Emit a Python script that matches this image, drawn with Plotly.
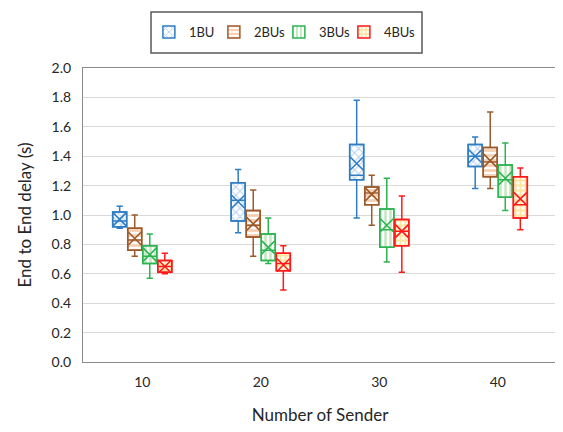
import plotly.graph_objects as go

categories = ["10", "20", "30", "40"]
series = ["1BU", "2BUs", "3BUs", "4BUs"]

lower = {
    "1BU": [0.91, 0.88, 0.98, 1.18],
    "2BUs": [0.72, 0.72, 0.93, 1.18],
    "3BUs": [0.57, 0.67, 0.68, 1.03],
    "4BUs": [0.60, 0.49, 0.61, 0.90],
}
q1 = {
    "1BU": [0.92, 0.96, 1.24, 1.33],
    "2BUs": [0.76, 0.85, 1.07, 1.26],
    "3BUs": [0.67, 0.69, 0.78, 1.12],
    "4BUs": [0.61, 0.62, 0.79, 0.98],
}
median = {
    "1BU": [0.96, 1.10, 1.27, 1.40],
    "2BUs": [0.83, 0.93, 1.15, 1.36],
    "3BUs": [0.72, 0.76, 0.90, 1.24],
    "4BUs": [0.65, 0.67, 0.89, 1.07],
}
q3 = {
    "1BU": [1.02, 1.22, 1.48, 1.48],
    "2BUs": [0.91, 1.03, 1.19, 1.46],
    "3BUs": [0.79, 0.87, 1.04, 1.34],
    "4BUs": [0.69, 0.74, 0.97, 1.26],
}
upper = {
    "1BU": [1.06, 1.31, 1.78, 1.53],
    "2BUs": [1.00, 1.17, 1.27, 1.70],
    "3BUs": [0.87, 0.98, 1.25, 1.49],
    "4BUs": [0.74, 0.79, 1.13, 1.32],
}
mean = {
    "1BU": [0.97, 1.09, 1.35, 1.40],
    "2BUs": [0.84, 0.94, 1.14, 1.37],
    "3BUs": [0.73, 0.78, 0.93, 1.25],
    "4BUs": [0.65, 0.66, 0.89, 1.11],
}

edge = {"1BU": "#2F7DC4", "2BUs": "#9C5A2A", "3BUs": "#2DB452", "4BUs": "#FF1A1A"}
pat = {
    "1BU": dict(shape="x", fgcolor="#6FA5E0", bgcolor="white", size=6, solidity=0.35),
    "2BUs": dict(shape="-", fgcolor="#EE9F68", bgcolor="white", size=5, solidity=0.55),
    "3BUs": dict(shape="|", fgcolor="#8CCF86", bgcolor="white", size=5, solidity=0.5),
    "4BUs": dict(shape="+", fgcolor="#FFC93C", bgcolor="white", size=5, solidity=0.6),
}

step = 0.127
bw = 0.118
font = "Lato, 'Open Sans', sans-serif"

fig = go.Figure()
for k, s in enumerate(series):
    xs = [i + 0.5 + (k - 1.5) * step for i in range(len(categories))]
    heights = [b - a for a, b in zip(q1[s], q3[s])]
    fig.add_trace(go.Bar(
        x=xs, y=heights, base=q1[s], width=bw, name=s,
        marker=dict(color="white", pattern=pat[s], line=dict(color=edge[s], width=1.5)),
        hoverinfo="skip",
    ))
    fig.add_trace(go.Box(
        x=xs, q1=q1[s], median=median[s], q3=q3[s],
        lowerfence=lower[s], upperfence=upper[s],
        width=bw, whiskerwidth=0.45, fillcolor="rgba(0,0,0,0)",
        line=dict(color=edge[s], width=1.5), showlegend=False, name=s,
    ))
    fig.add_trace(go.Scatter(
        x=xs, y=mean[s], mode="markers", showlegend=False, name=s,
        marker=dict(symbol="x-thin", size=13, line=dict(color=edge[s], width=1.6)),
    ))

# empty legend slot so the last legend label is not clipped
fig.add_trace(go.Scatter(x=[None], y=[None], mode="markers", name="",
                         marker=dict(color="rgba(0,0,0,0)"), hoverinfo="skip"))

# page body has an 8px default margin, so the figure is offset by (8, 8)
fig.update_layout(
    width=563, height=432,
    margin=dict(l=75, r=14, t=60, b=78, autoexpand=False),
    paper_bgcolor="white", plot_bgcolor="white",
    barmode="overlay",
    font=dict(family=font, size=14, color="#262626"),
    legend=dict(
        orientation="h", x=0.139, xanchor="left", y=1.1224, yanchor="middle",
        borderwidth=0, font=dict(size=13), bgcolor="rgba(0,0,0,0)",
        entrywidth=20, entrywidthmode="pixels",
    ),
    xaxis=dict(
        range=[0, 4], tickvals=[i + 0.5 for i in range(len(categories))],
        ticktext=categories, showgrid=False, zeroline=False,
        showline=True, linecolor="#8c8c8c", linewidth=1.2, mirror=True,
        ticks="outside", ticklen=7, tickcolor="rgba(0,0,0,0)", automargin=False,
        title=dict(text="Number of Sender", standoff=20),
    ),
    yaxis=dict(
        range=[0, 2], dtick=0.2, tickformat=".1f",
        showgrid=True, gridcolor="#d9d9d9", gridwidth=1, zeroline=False,
        showline=True, linecolor="#8c8c8c", linewidth=1.2, mirror=True,
        ticks="outside", ticklen=8, tickcolor="rgba(0,0,0,0)", automargin=False,
        title=dict(text="End to End delay (s)", standoff=15),
    ),
    shapes=[
        dict(type="rect", xref="paper", yref="paper", x0=0.1435, x1=0.7152, y0=1.051, y1=1.1905,
             line=dict(color="#595959", width=1.5), fillcolor="rgba(0,0,0,0)", layer="below"),
        dict(type="line", xref="paper", yref="paper", x0=-0.1624, x1=1.02, y0=1.2245, y1=1.2245,
             line=dict(color="#d9d9d9", width=1.5)),
        dict(type="line", xref="paper", yref="paper", x0=-0.1624, x1=-0.1624, y0=-0.25, y1=1.2245,
             line=dict(color="#d9d9d9", width=1.5)),
    ],
)

fig.write_html("out.html")
